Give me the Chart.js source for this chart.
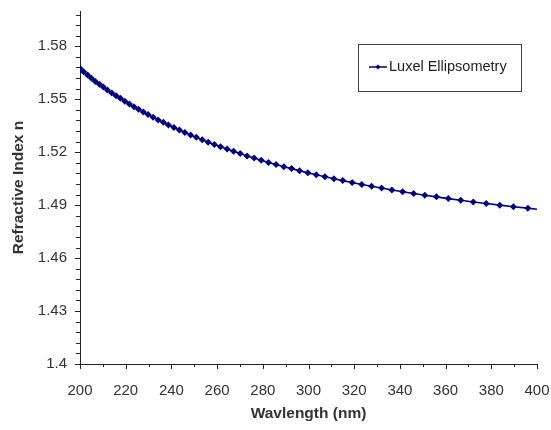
<!DOCTYPE html>
<html>
<head>
<meta charset="utf-8">
<script src="https://cdn.jsdelivr.net/npm/chart.js@4.4.1/dist/chart.umd.min.js"></script>
<style>
  body { margin: 0; background: #fff; }
  #wrap { width: 551px; height: 430px; }
</style>
</head>
<body>
<div id="wrap"><canvas id="nChart"></canvas></div>
<script>
const wavelengths = [
  200.0, 201.6, 203.3, 205.0, 206.7, 208.5, 210.2, 212.0, 213.9, 215.8,
  217.7, 219.6, 221.6, 223.6, 225.6, 227.7, 229.8, 232.0, 234.2, 236.5,
  238.7, 241.1, 243.5, 245.9, 248.4, 250.9, 253.5, 256.1, 258.8, 261.5,
  264.4, 267.2, 270.1, 273.1, 276.2, 279.3, 282.5, 285.8, 289.2, 292.6,
  296.1, 299.7, 303.4, 307.2, 311.1, 315.0, 319.1, 323.3, 327.6, 332.0,
  336.5, 341.2, 346.0, 350.9, 356.0, 361.2, 366.6, 372.1, 377.8, 383.7,
  389.7, 396.0, 400.0
];
// refractive index n at each wavelength
const refractiveIndex = [
  1.5675, 1.5656, 1.5637, 1.5619, 1.5601, 1.5585, 1.5569, 1.5552, 1.5536, 1.5520,
  1.5505, 1.5489, 1.5473, 1.5458, 1.5443, 1.5428, 1.5413, 1.5398, 1.5383, 1.5369,
  1.5354, 1.5340, 1.5326, 1.5312, 1.5298, 1.5284, 1.5271, 1.5257, 1.5244, 1.5231,
  1.5218, 1.5205, 1.5192, 1.5179, 1.5167, 1.5155, 1.5142, 1.5130, 1.5118, 1.5107,
  1.5095, 1.5083, 1.5072, 1.5061, 1.5050, 1.5039, 1.5028, 1.5017, 1.5007, 1.4997,
  1.4986, 1.4976, 1.4966, 1.4956, 1.4947, 1.4937, 1.4928, 1.4918, 1.4909, 1.4900,
  1.4891, 1.4883, 1.4877
];
const xTicks = [200, 220, 240, 260, 280, 300, 320, 340, 360, 380, 400];
const yTicks = [1.4, 1.43, 1.46, 1.49, 1.52, 1.55, 1.58];
const seriesName = 'Luxel Ellipsometry';

const NAVY = '#000080';
const FONT = "'Liberation Sans', Arial, sans-serif";

// short minor ticks (5 per y major, 2 per x major) plus outward major ticks
const axisTicks = {
  id: 'axisTicks',
  afterDraw(chart) {
    const c = chart.ctx, xs = chart.scales.x, ys = chart.scales.y;
    c.save();
    c.strokeStyle = '#222';
    c.lineWidth = 1;
    c.beginPath();
    const xStep = (xTicks[1] - xTicks[0]) / 2;
    for (let v = xs.min; v <= xs.max + 1e-6; v += xStep) {
      const px = Math.round(xs.getPixelForValue(v)) + 0.5;
      const major = xTicks.some(t => Math.abs(t - v) < 1e-6);
      c.moveTo(px, ys.bottom);
      c.lineTo(px, ys.bottom + (major ? 5 : 3));
    }
    const yStep = (yTicks[1] - yTicks[0]) / 5;
    for (let v = ys.min; v <= ys.max + 1e-6; v += yStep) {
      const py = Math.round(ys.getPixelForValue(v)) + 0.5;
      const major = yTicks.some(t => Math.abs(t - v) < 1e-6);
      c.moveTo(xs.left, py);
      c.lineTo(xs.left - (major ? 5 : 4), py);
    }
    c.stroke();
    c.restore();
  }
};

// framed legend inside the plot, top right
const boxLegend = {
  id: 'boxLegend',
  afterDraw(chart) {
    const c = chart.ctx;
    const bx = 358, by = 44, bw = 163, bh = 47;
    c.save();
    c.strokeStyle = '#444';
    c.lineWidth = 1;
    c.strokeRect(bx + 0.5, by + 0.5, bw, bh);
    const my = by + 23;
    c.strokeStyle = NAVY;
    c.lineWidth = 1.5;
    c.beginPath();
    c.moveTo(bx + 11, my);
    c.lineTo(bx + 29, my);
    c.stroke();
    c.fillStyle = NAVY;
    c.beginPath();
    c.moveTo(bx + 20, my - 2.5);
    c.lineTo(bx + 22.5, my);
    c.lineTo(bx + 20, my + 2.5);
    c.lineTo(bx + 17.5, my);
    c.closePath();
    c.fill();
    c.fillStyle = '#222';
    c.font = '14.5px ' + FONT;
    c.textBaseline = 'middle';
    c.fillText(chart.data.datasets[0].label, bx + 31, my);
    c.restore();
  }
};

const ctx = document.getElementById('nChart').getContext('2d');
const nChart = new Chart(ctx, {
  type: 'line',
  data: {
    datasets: [{
      label: seriesName,
      data: wavelengths.map((w, i) => ({ x: w, y: refractiveIndex[i] })),
      borderColor: NAVY,
      backgroundColor: NAVY,
      borderWidth: 1.6,
      pointStyle: 'rectRot',
      pointRadius: c => (c.dataIndex === wavelengths.length - 1 ? 0 : 3.5),
      pointBorderWidth: 0,
      pointBackgroundColor: NAVY,
      tension: 0,
      fill: false
    }]
  },
  options: {
    responsive: true,
    maintainAspectRatio: false,
    animation: false,
    layout: { padding: { top: 11, right: 0, left: 0, bottom: 0 } },
    plugins: {
      legend: { display: false },
      tooltip: { enabled: false }
    },
    scales: {
      x: {
        type: 'linear',
        min: 200,
        max: 400,
        afterBuildTicks: s => { s.ticks = xTicks.map(v => ({ value: v })); },
        afterFit: s => { s.height = 66; s.paddingLeft = 0; s.paddingRight = 14; },
        grid: { display: false },
        border: { display: true, color: '#222', width: 1 },
        ticks: { color: '#333', font: { family: FONT, size: 15 }, padding: 10, maxRotation: 0 },
        title: {
          display: true,
          text: 'Wavlength (nm)',
          color: '#333',
          font: { family: FONT, size: 15.5, weight: 'bold' },
          padding: { top: 0, bottom: 7 }
        }
      },
      y: {
        type: 'linear',
        min: 1.4,
        max: 1.6,
        afterBuildTicks: s => { s.ticks = yTicks.map(v => ({ value: v })); },
        afterFit: s => { s.width = 80; s.paddingTop = 0; s.paddingBottom = 0; },
        grid: { display: false },
        border: { display: true, color: '#222', width: 1 },
        ticks: {
          color: '#333',
          font: { family: FONT, size: 15 },
          padding: 5,
          callback: v => String(+v.toFixed(2))
        },
        title: {
          display: true,
          text: 'Refractive Index n',
          color: '#333',
          font: { family: FONT, size: 15.5, weight: 'bold' },
          padding: { top: 9, bottom: 0 }
        }
      }
    }
  },
  plugins: [axisTicks, boxLegend]
});
</script>
</body>
</html>
